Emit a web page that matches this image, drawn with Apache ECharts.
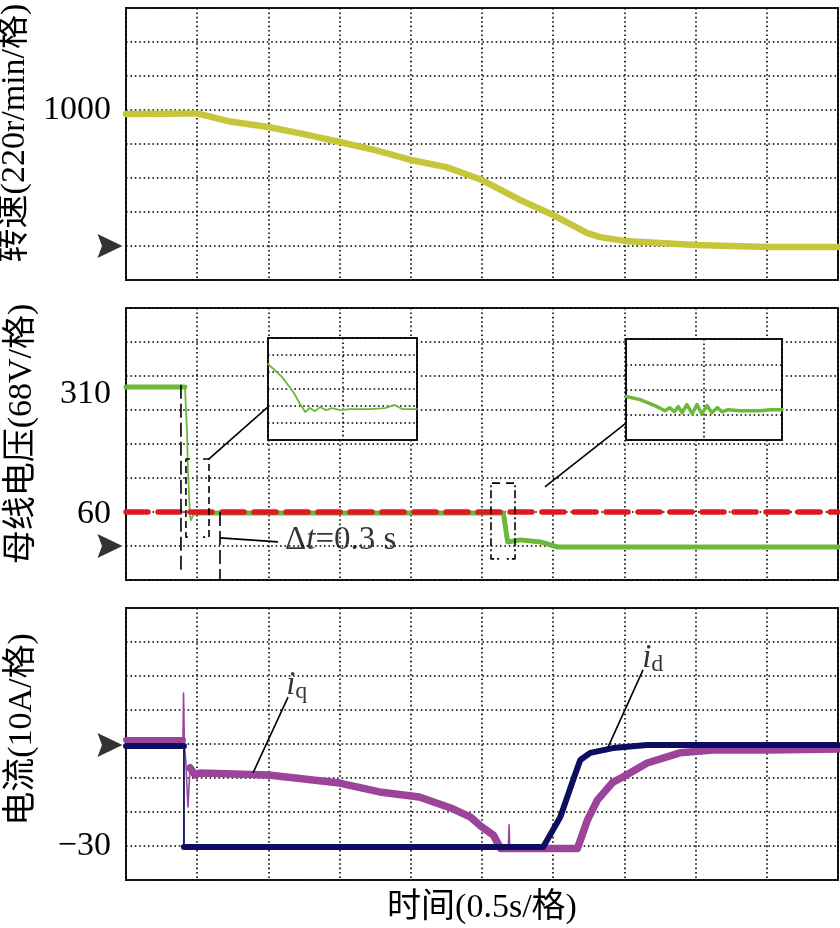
<!DOCTYPE html>
<html>
<head>
<meta charset="utf-8">
<script src="https://cdn.jsdelivr.net/npm/echarts@6/dist/echarts.min.js"></script>
<style>
html, body { margin: 0; padding: 0; background: #fff; }
#chart { width: 840px; height: 928px; }
</style>
</head>
<body>
<div id="chart"></div>
<script>
// x: time in s (0.5 s / division), y: scope divisions counted from the bottom edge of each panel
const speed = [[0, 4.88], [0.45, 4.9], [0.5, 4.9], [0.73, 4.66], [1.0, 4.5], [1.25, 4.29], [1.5, 4.06], [1.75, 3.82],
    [2.0, 3.53], [2.25, 3.32], [2.5, 2.94], [2.77, 2.35], [3.0, 1.91], [3.24, 1.38], [3.33, 1.26], [3.5, 1.15],
    [3.75, 1.09], [4.0, 1.03], [4.5, 0.97], [5.0, 0.97]];

const voltHigh = [[0, 5.68], [0.414, 5.68]];
const voltFall = [[0.414, 5.68], [0.428, 4.41], [0.435, 3.24], [0.449, 1.91], [0.456, 1.76], [0.478, 1.97]];
const voltLow = [[0.478, 1.97], [2.65, 1.97], [2.68, 1.12], [2.77, 1.18], [2.91, 1.12], [3.03, 0.97], [5.0, 0.97]];
const voltLimit = [[0, 2], [5, 2]];

const idPre = [[0, 3.94], [0.407, 3.94]];
const idStep = [[0.407, 3.94], [0.407, 0.97]];
const idPost = [[0.407, 0.97], [2.93, 0.97], [3.05, 1.85], [3.14, 2.94], [3.19, 3.53], [3.26, 3.74], [3.42, 3.88],
    [3.66, 3.97], [5.0, 3.97]];

const iqPre = [[0, 4.12], [0.4, 4.12]];
const iqSpike = [[0.4, 4.12], [0.404, 5.5], [0.41, 4.0], [0.42, 3.5], [0.435, 2.15], [0.45, 3.3], [null, null],
    [2.685, 0.93], [2.69, 1.62], [2.695, 0.93]];
const iqMain = [[0.45, 3.3], [0.485, 3.09], [0.52, 3.15], [1.0, 3.09], [1.5, 2.85], [1.78, 2.59], [2.06, 2.44],
    [2.28, 2.12], [2.42, 1.85], [2.49, 1.59], [2.58, 1.32], [2.63, 0.93], [3.17, 0.93], [3.24, 1.76], [3.31, 2.35],
    [3.42, 2.88], [3.49, 3.03], [3.66, 3.44], [3.89, 3.74], [4.12, 3.82], [4.51, 3.82], [5.0, 3.85]];

// zoomed insets (x: 0..2 inset divisions)
const zoomFall = [[0, 4.47], [0.19, 3.7], [0.34, 2.82], [0.43, 2.12], [0.5, 1.65], [0.56, 1.88], [0.63, 1.7],
    [0.7, 1.94], [0.78, 1.76], [0.86, 1.88], [0.97, 1.76], [1.1, 1.82], [1.37, 1.82], [1.57, 1.88], [1.7, 2.06],
    [1.8, 1.82], [2.0, 1.82]];
const zoomDrop = [[0, 1.72], [0.18, 1.6], [0.37, 1.36], [0.5, 1.16], [0.56, 1.28], [0.62, 1.12], [0.67, 1.32],
    [0.72, 1.08], [0.78, 1.4], [0.85, 1.04], [0.91, 1.4], [0.97, 1.04], [1.04, 1.36], [1.1, 1.08], [1.17, 1.28],
    [1.23, 1.12], [1.31, 1.2], [1.46, 1.16], [1.72, 1.16], [1.85, 1.2], [2.0, 1.2]];

// tick labels (positions in divisions)
const speedTickPos = [5], speedTickText = ['1000'];
const voltTickPos = [5.47, 1.95], voltTickText = ['310', '60'];
const currTickPos = [1], currTickText = ['\u221230'];
const zeroMarks = [1, 1, 3.97];

// annotations in the voltage panel
const dashMarks = [[0.386, 5.74], [0.386, 0.29], [null, null], [0.66, 2.0], [0.66, 0.0]];
const bracketA = [[0.449, 3.56], [0.421, 3.56], [0.421, 1.26], [0.449, 1.26], [null, null],
    [0.541, 3.56], [0.583, 3.56], [0.583, 1.26], [0.541, 1.26]];
const bracketB = [[2.626, 2.85], [2.563, 2.85], [2.563, 0.62], [2.626, 0.62], [null, null],
    [2.669, 2.85], [2.732, 2.85], [2.732, 0.62], [2.669, 0.62]];
const leaders = [[0.583, 3.56], [0.997, 5.09], [null, null], [0.66, 1.24], [1.067, 1.12], [null, null],
    [2.942, 2.74], [3.504, 4.59]];
const dtLabelPos = [1.117, 1.18];
const currLeaders = [[1.138, 5.38], [0.892, 3.15], [null, null], [3.631, 6.18], [3.385, 3.91]];
const iqLabelPos = [1.125, 5.74], idLabelPos = [3.625, 6.53];

const serif = '"Liberation Serif", "Noto Sans CJK SC", serif';
const dotted = { show: true, lineStyle: { color: '#000', width: 1.6, type: [1.6, 2.8] } };
const chart = echarts.init(document.getElementById('chart'));

const mainGrid = (top) => ({ left: 126, top, width: 712, height: 272, show: true, borderColor: '#1a1a1a',
    borderWidth: 2, outerBoundsMode: 'none', containLabel: false });
const insetGrid = (left, top, width, height) => ({ left, top, width, height, show: true, backgroundColor: '#fff',
    borderColor: '#1a1a1a', borderWidth: 2, z: 10, outerBoundsMode: 'none', containLabel: false });

const mainX = (i) => ({
    type: 'value', gridIndex: i, min: 0, max: 5, interval: 0.5,
    axisLine: { show: false }, axisTick: { show: false }, axisLabel: { show: false }, splitLine: dotted,
});
const mainY = (i, name, pos, text, pad) => ({
    type: 'value', gridIndex: i, min: 0, max: 8, interval: 1,
    axisLine: { show: false }, axisTick: { show: false }, splitLine: dotted,
    axisLabel: { customValues: pos, margin: 15, fontSize: 34, fontFamily: serif, color: '#000',
        formatter: (v) => text[pos.indexOf(v)] },
    name, nameLocation: 'middle', nameGap: 87, nameRotate: 90,
    nameTextStyle: { fontSize: 34, fontFamily: serif, color: '#000', padding: [0, 0, 0, pad] },
});
const insetAxis = (i, max, z) => ({
    type: 'value', gridIndex: i, min: 0, max, interval: 1, z,
    axisLine: { show: false }, axisTick: { show: false }, axisLabel: { show: false }, splitLine: dotted,
});

const trace = (i, data, color, width, z) => ({
    type: 'line', xAxisIndex: i, yAxisIndex: i, data, symbol: 'none', silent: true, z: z || 2,
    lineStyle: { color, width, cap: 'round', join: 'round' },
});
const annot = (i, data, type, width) => ({
    type: 'line', xAxisIndex: i, yAxisIndex: i, data, symbol: 'none', silent: true, z: 4, clip: false,
    lineStyle: { color: '#000', width: width || 1.6, type },
});
const textMark = (i, pos, fmt, rich) => ({
    type: 'scatter', xAxisIndex: i, yAxisIndex: i, data: [pos], symbolSize: 0, silent: true, z: 5, clip: false,
    label: { show: true, position: 'right', distance: 0, formatter: fmt, color: '#000', fontFamily: serif, rich },
});
const zeroArrow = (i, y) => ({
    type: 'scatter', xAxisIndex: i, yAxisIndex: i, data: [[0, y]], silent: true, clip: false, z: 5,
    symbol: 'path://M0,0 L28,12 L0,24 L5,12 Z', symbolSize: [25, 24], symbolOffset: [-16, 0],
    itemStyle: { color: '#000' },
});

const limitLine = trace(1, voltLimit, '#dc1a22', 5.5, 4);
limitLine.lineStyle.type = [22, 10];

const option = {
    animation: false,
    backgroundColor: '#fff',
    grid: [mainGrid(8), mainGrid(308), mainGrid(608), insetGrid(268, 338, 149, 102), insetGrid(626, 339, 156, 101)],
    xAxis: [mainX(0), mainX(1),
        Object.assign(mainX(2), { name: '时间(0.5s/格)', nameLocation: 'middle', nameGap: 11,
            nameTextStyle: { fontSize: 34, fontFamily: serif, color: '#000' } }),
        insetAxis(3, 2, 11), insetAxis(4, 2, 11)],
    yAxis: [mainY(0, '转速(220r/min/格)', speedTickPos, speedTickText, 22),
        mainY(1, '母线电压(68V/格)', voltTickPos, voltTickText, 20),
        mainY(2, '电流(10A/格)', currTickPos, currTickText, 29),
        insetAxis(3, 6, 11), insetAxis(4, 4, 11)],
    series: [
        trace(0, speed, '#c6c63a', 6.5),
        limitLine,
        trace(1, voltHigh, '#6cb83a', 5, 3),
        trace(1, voltFall, '#6cb83a', 1.8, 3),
        trace(1, voltLow, '#6cb83a', 5, 3),
        trace(2, iqPre, '#9c449a', 6),
        trace(2, iqMain, '#9c449a', 7.5),
        trace(2, iqSpike, '#9c449a', 1.6),
        trace(2, idPre, '#0d0d62', 6, 3),
        trace(2, idStep, '#0d0d62', 1.8, 3),
        trace(2, idPost, '#0d0d62', 6, 3),
        trace(3, zoomFall, '#6cb83a', 1.8, 12),
        trace(4, zoomDrop, '#6cb83a', 3.5, 12),
        annot(1, dashMarks, [14, 5]),
        annot(1, bracketA, [7, 4]),
        annot(1, bracketB, [8, 3, 2, 3]),
        annot(1, leaders, 'solid'),
        annot(2, currLeaders, 'solid'),
        textMark(1, dtLabelPos, '{n|\u0394}{t|t}{n|=0.3 s}', {
            n: { fontSize: 33, fontFamily: serif }, t: { fontSize: 33, fontFamily: serif, fontStyle: 'italic' } }),
        textMark(2, iqLabelPos, '{i|i}{s|q}', {
            i: { fontSize: 33, fontFamily: serif, fontStyle: 'italic' }, s: { fontSize: 24, fontFamily: serif, padding: [14, 0, 0, 0] } }),
        textMark(2, idLabelPos, '{i|i}{s|d}', {
            i: { fontSize: 33, fontFamily: serif, fontStyle: 'italic' }, s: { fontSize: 24, fontFamily: serif, padding: [14, 0, 0, 0] } }),
        zeroArrow(0, zeroMarks[0]),
        zeroArrow(1, zeroMarks[1]),
        zeroArrow(2, zeroMarks[2]),
    ],
};
chart.setOption(option);
</script>
</body>
</html>
